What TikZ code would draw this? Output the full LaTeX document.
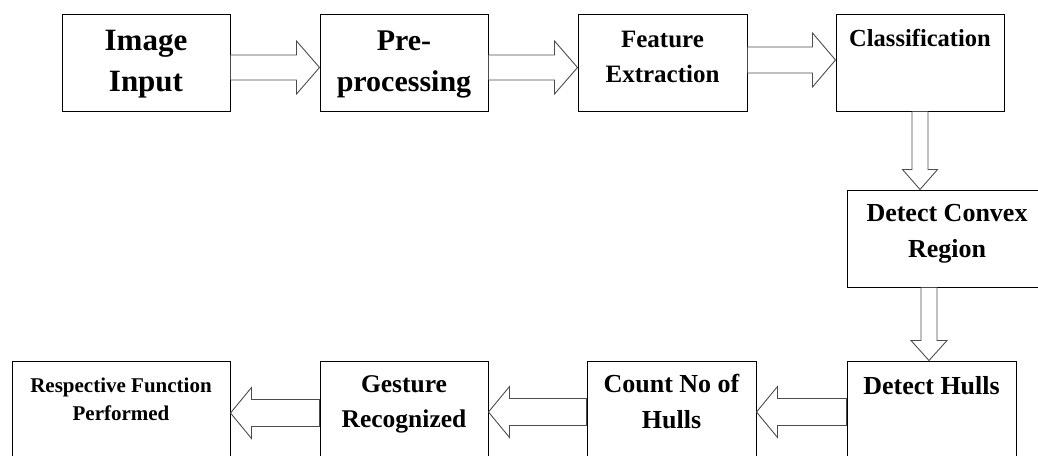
\documentclass[tikz,border=0pt]{standalone}
\usepackage{fontspec}
\setmainfont{Liberation Serif}
\usetikzlibrary{calc}
\tikzset{
	block/.style={draw=black, line width=1pt, inner sep=0pt, minimum height=97pt},
	blocktext/.style 2 args={align=center, inner sep=0pt, anchor=north, font=\bfseries\fontsize{#1}{#2}\selectfont},
	hollow/.style={draw=black!70, line width=0.9pt, line join=miter}
}
% hollow block arrow: [shaft half width][head half width][head length](from)(to)
\def\fatarrow[#1][#2][#3](#4)(#5){%
	\path (#4) coordinate (fa-s) (#5) coordinate (fa-e) ($(fa-e)!#3pt!(fa-s)$) coordinate (fa-h);
	\draw[hollow] ($(fa-s)!#1pt!90:(fa-e)$) -- ($(fa-h)!#1pt!90:(fa-e)$) -- ($(fa-h)!#2pt!90:(fa-e)$) -- (fa-e)
		-- ($(fa-h)!#2pt!-90:(fa-e)$) -- ($(fa-h)!#1pt!-90:(fa-e)$) -- ($(fa-s)!#1pt!-90:(fa-e)$) -- cycle;}

\begin{document}
\begin{tikzpicture}[x=1pt, y=-1pt]
			%%%%% START %%%%%
			\useasboundingbox (0,0) rectangle (1038,455);
			\clip (0,0) rectangle (1038,455);
			
			% top row
			\node[block, minimum width=168pt] (img) at (146, 62.5) {};
			\node[block, minimum width=168pt] (pre) at (404, 62.5) {};
			\node[block, minimum width=169pt] (feat) at (662.5, 62.5) {};
			\node[block, minimum width=168pt] (cls) at (920, 62.5) {};
			
			% right column
			\node[block, minimum width=200pt] (cvx) at (947, 238.5) {};
			
			% bottom row, cut by the page
			\node[block, minimum width=169pt] (hull) at (931.5, 409.5) {};
			\node[block, minimum width=169pt] (cnt) at (671.5, 409.5) {};
			\node[block, minimum width=168pt] (gest) at (404, 409.5) {};
			\node[block, minimum width=218pt] (resp) at (121, 409.5) {};
			
			\node[blocktext={31}{41}] (img-t) at ([yshift=-17pt]img.north) {Image\\Input};
			\node[blocktext={30}{41}] (pre-t) at ([yshift=-17pt]pre.north) {Pre-\\processing};
			\node[blocktext={25}{35}] (feat-t) at ([yshift=-17pt]feat.north) {Feature\\Extraction};
			\node[blocktext={24.5}{28}] (cls-t) at ([yshift=-16pt]cls.north) {Classification};
			\node[blocktext={26}{36}] (cvx-t) at ([yshift=-14.5pt]cvx.north) {Detect Convex\\Region};
			\node[blocktext={26}{36}] (hull-t) at ([yshift=-15.5pt]hull.north) {Detect Hulls};
			\node[blocktext={26}{36}] (cnt-t) at ([yshift=-13.5pt]cnt.north) {Count No of\\Hulls};
			\node[blocktext={25.5}{35}] (gest-t) at ([yshift=-15pt]gest.north) {Gesture\\Recognized};
			\node[blocktext={21}{28}] (resp-t) at ([yshift=-17pt]resp.north) {Respective Function\\Performed};
			
			\fatarrow[12.5][26.5][23]([yshift=-5pt]img.east)([yshift=-5pt]pre.west)
			\fatarrow[12.5][26.5][23]([yshift=-5pt]pre.east)([yshift=-5pt]feat.west)
			\fatarrow[13][27][23]([yshift=2.5pt]feat.east)([yshift=2.5pt]cls.west)
			\fatarrow[8][17.5][20](cls.south)(cls.south |- cvx.north)
			\fatarrow[8][18][20]([xshift=-2.5pt]hull.north |- cvx.south)([xshift=-2.5pt]hull.north)
			\fatarrow[13.5][25.5][21]([yshift=-2.5pt]hull.west)([yshift=-2.5pt]cnt.east)
			\fatarrow[13.5][25.5][21]([yshift=-2.5pt]cnt.west)([yshift=-2.5pt]gest.east)
			\fatarrow[13.5][25.5][21]([yshift=-3.5pt]gest.west)([yshift=-3.5pt]resp.east)
			
			%%%%% END %%%%%
\end{tikzpicture}
\end{document}
